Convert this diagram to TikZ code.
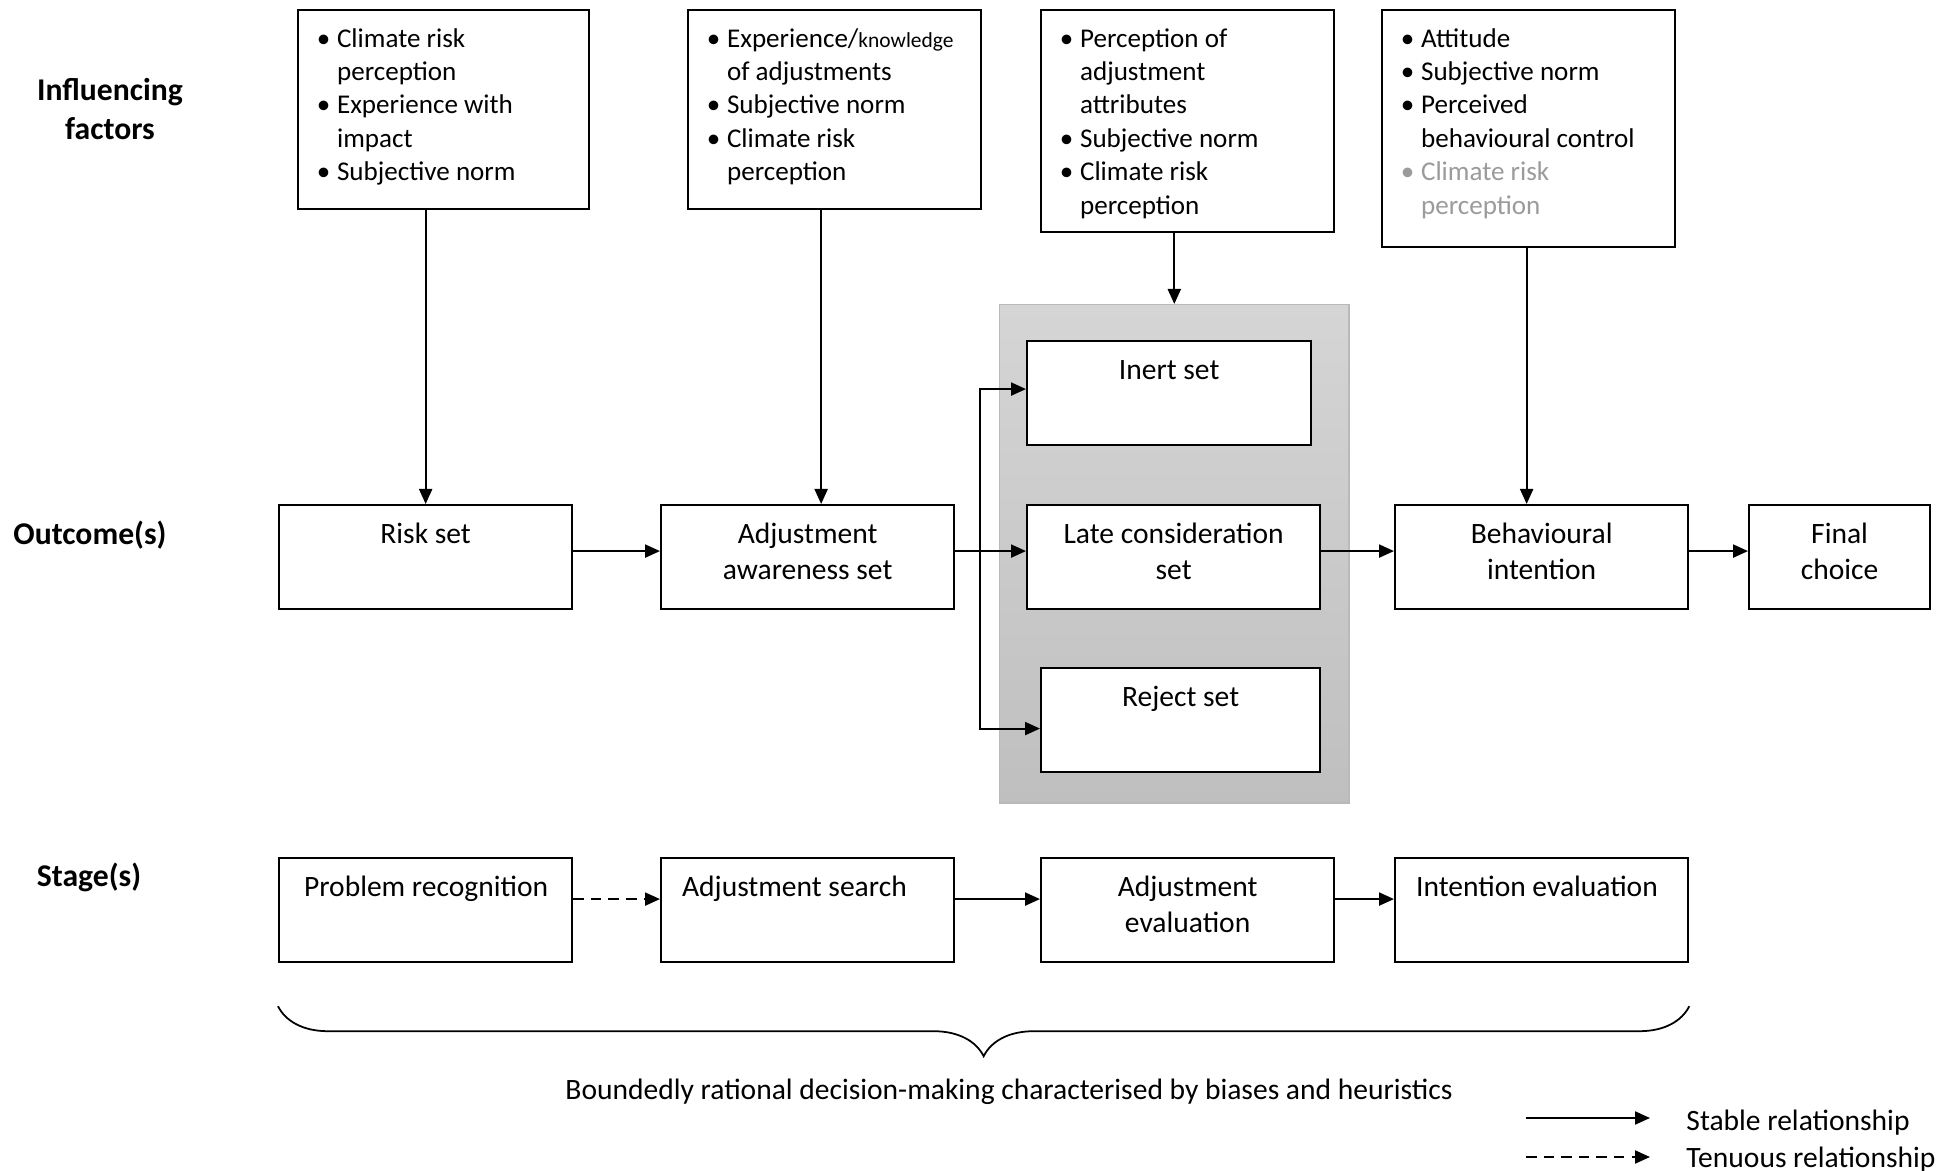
\documentclass[tikz,border=0pt]{standalone}
\usepackage{fontspec}
\setmainfont{Carlito}
\usetikzlibrary{arrows.meta,decorations.pathreplacing}

\definecolor{panelTop}{RGB}{213,213,213}
\definecolor{panelBot}{RGB}{191,191,191}
\definecolor{panelEdge}{RGB}{185,185,185}
\definecolor{fadeGray}{RGB}{155,155,155}

\newcommand{\bul}{\hspace*{0.255cm}\makebox[0pt]{\textbullet}\hspace*{0.135cm}}
\newcommand{\twoline}[2]{\begin{tabular}[t]{@{}c@{}}#1\\#2\end{tabular}}
\newcommand{\lpad}[2][0.21cm]{\makebox[2.93cm][l]{\hspace{#1}#2}}

\begin{document}
\begin{tikzpicture}[x=0.01cm, y=-0.01cm,
  every node/.style={font=\fontsize{7.7}{9.5}\selectfont},
  factor/.style={draw, line width=0.6pt, fill=white, anchor=north west, inner xsep=0pt, inner ysep=0.137cm, text height=0.234cm, minimum width=2.93cm},
  setbox/.style={draw, line width=0.6pt, fill=white, anchor=north west, inner xsep=0pt, inner ysep=0.146cm, text height=0.234cm, text depth=0.514cm, minimum width=2.93cm, font=\fontsize{8.4}{10.3}\selectfont},
  panel/.style={anchor=north west, inner sep=0pt, minimum width=3.49cm, minimum height=4.98cm, top color=panelTop, bottom color=panelBot, draw=panelEdge, line width=0.4pt},
  heading/.style={font=\fontsize{9}{10.9}\selectfont\bfseries, align=center},
  note/.style={font=\fontsize{8.4}{10.3}\selectfont},
  arr/.style={line width=0.6pt, -{Triangle[length=0.15cm, width=0.13cm]}},
  tenuous/.style={arr, dash pattern=on 3pt off 2pt},
]
\useasboundingbox (0,0) rectangle (1955,1171);

% row labels
\node[heading] (lblInf) at (110,109) {Influencing\\factors};
\node[heading] (lblOut) at (90,535) {Outcome(s)};
\node[heading] (lblStage) at (89,877) {Stage(s)};

% influencing factors
\node[factor, text depth=1.482cm, minimum width=2.91cm] (riskF) at (297,9) {\begin{tabular}[t]{@{}l@{}p{2.52cm}@{}}
\bul & Climate risk\\
 & perception\\
\bul & Experience with\\
 & impact\\
\bul & Subjective norm
\end{tabular}};
\node[factor, text depth=1.482cm] (adjF) at (687,9) {\begin{tabular}[t]{@{}l@{}p{2.54cm}@{}}
\bul & Experience/{\fontsize{6.1}{9.5}\selectfont knowledge}\\
 & of adjustments\\
\bul & Subjective norm\\
\bul & Climate risk\\
 & perception
\end{tabular}};
\node[factor, text depth=1.712cm] (attrF) at (1040,9) {\begin{tabular}[t]{@{}l@{}p{2.54cm}@{}}
\bul & Perception of\\
 & adjustment\\
 & attributes\\
\bul & Subjective norm\\
\bul & Climate risk\\
 & perception
\end{tabular}};
\node[factor, text depth=1.862cm] (tpbF) at (1381,9) {\begin{tabular}[t]{@{}l@{}p{2.54cm}@{}}
\bul & Attitude\\
\bul & Subjective norm\\
\bul & Perceived\\
 & behavioural control\\
\textcolor{fadeGray}{\bul} & \textcolor{fadeGray}{Climate risk}\\
 & \textcolor{fadeGray}{perception}
\end{tabular}};

% outcomes
\node[panel] (panel) at (999,304) {};
\node[setbox] (riskSet) at (278,504) {Risk set};
\node[setbox] (awareSet) at (660,504) {\twoline{Adjustment}{awareness set}};
\node[setbox, minimum width=2.84cm] (inertSet) at (1026,340) {Inert set};
\node[setbox] (lateSet) at (1026,504) {\twoline{Late consideration}{set}};
\node[setbox, minimum width=2.79cm] (rejectSet) at (1040,667) {Reject set};
\node[setbox] (intentSet) at (1394,504) {\twoline{Behavioural}{intention}};
\node[setbox, minimum width=1.81cm] (finalSet) at (1748,504) {\twoline{Final}{choice}};

% stages
\node[setbox] (recog) at (278,857) {\lpad[0.25cm]{Problem recognition}};
\node[setbox] (search) at (660,857) {\lpad{Adjustment search}};
\node[setbox] (evalA) at (1040,857) {\twoline{Adjustment}{evaluation}};
\node[setbox] (evalI) at (1394,857) {\lpad{Intention evaluation}};

% factors to outcomes
\draw[arr] (riskF.south -| riskSet.north) -- (riskSet.north);
\draw[arr] ([xshift=-0.135cm]adjF.south) -- ([xshift=-0.135cm]adjF.south |- awareSet.north);
\draw[arr] (attrF.south -| panel.north) -- (panel.north);
\draw[arr] ([xshift=-0.02cm]tpbF.south) -- ([xshift=-0.02cm]tpbF.south |- intentSet.north);

% outcome chain
\draw[arr] ([yshift=0.06cm]riskSet.east) -- ([yshift=0.06cm]awareSet.west);
\draw[arr] ([yshift=0.06cm]awareSet.east) -- ([yshift=0.06cm]lateSet.west);
\coordinate (split) at (980,550);
\draw[arr] (split) |- ([yshift=0.04cm]inertSet.west);
\draw[arr] (split) |- ([yshift=-0.085cm]rejectSet.west);
\draw[arr] ([yshift=0.06cm]lateSet.east) -- ([yshift=0.06cm]intentSet.west);
\draw[arr] ([yshift=0.06cm]intentSet.east) -- ([yshift=0.06cm]finalSet.west);

% stage chain
\draw[tenuous] ([yshift=0.11cm]recog.east) -- ([yshift=0.11cm]search.west);
\draw[arr] ([yshift=0.11cm]search.east) -- ([yshift=0.11cm]evalA.west);
\draw[arr] ([yshift=0.11cm]evalA.east) -- ([yshift=0.11cm]evalI.west);

% brace and caption
\draw[line width=0.5pt, decorate, decoration={brace, mirror, amplitude=0.5cm, aspect=0.5}] ([yshift=-0.43cm]recog.south west) -- ([yshift=-0.43cm]evalI.south east);
\node[note] (caption) at (1009,1092) {Boundedly rational decision-making characterised by biases and heuristics};

% legend
\coordinate (stableA) at (1526,1118);
\coordinate (stableB) at (1650,1118);
\coordinate (tenuousA) at (1526,1157);
\coordinate (tenuousB) at (1650,1157);
\draw[arr] (stableA) -- (stableB);
\draw[tenuous] (tenuousA) -- (tenuousB);
\node[note, anchor=west] (stableTxt) at (1674,1123) {Stable relationship};
\node[note, anchor=west] (tenuousTxt) at (1674,1160) {Tenuous relationship};
\end{tikzpicture}
\end{document}
